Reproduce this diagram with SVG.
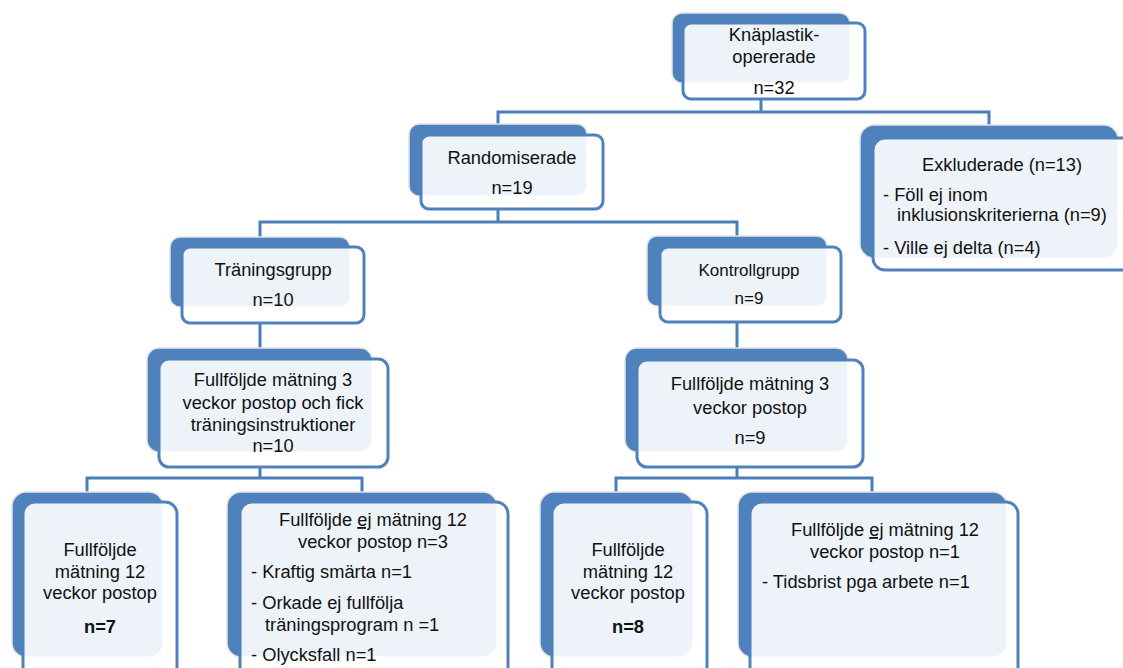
<svg xmlns="http://www.w3.org/2000/svg" width="1123" height="668" viewBox="0 0 1123 668">
<style>
.back{fill:#4F81BD;stroke:#E4E4E4;stroke-width:1.5}
.front{fill:#FFFFFF;fill-opacity:0.9;stroke:#4F81BD;stroke-width:3}
.c{fill:none;stroke:#4A7EBB;stroke-width:3}
text{font-family:"Liberation Sans",Arial,sans-serif;font-size:18.3px;fill:#111}
.m{text-anchor:middle}
.s{font-size:17px}
.b{font-weight:bold}
</style>
<rect width="1123" height="668" fill="#fff"/>
<g id="connectors">
<path class="c" d="M761 99V112M498 124V112H989V125"/>
<path class="c" d="M498 209V222M260 237V222H737V236"/>
<path class="c" d="M260 323V348M737 322V348"/>
<path class="c" d="M260 467V478M87 492V478H362V492"/>
<path class="c" d="M737 467V478M616 492V478H872V492"/>
</g>
<g id="n1">
<rect class="back" x="672" y="13" width="178" height="70" rx="10"/>
<rect class="front" x="683" y="23" width="182" height="76" rx="8"/>
<text class="m" x="774" y="41">Knäplastik-</text>
<text class="m" x="774" y="63">opererade</text>
<text class="m" x="774" y="94">n=32</text>
</g>
<g id="n2">
<rect class="back" x="409" y="124" width="178" height="72" rx="10"/>
<rect class="front" x="421" y="135" width="182" height="74" rx="8"/>
<text class="m" x="512" y="164">Randomiserade</text>
<text class="m" x="512" y="194">n=19</text>
</g>
<g id="n3">
<rect class="back" x="860" y="125" width="258" height="133" rx="14"/>
<rect class="front" x="873" y="138" width="262" height="132" rx="12"/>
<text class="m" x="1002" y="171">Exkluderade (n=13)</text>
<text x="883" y="201">- Föll ej inom</text>
<text x="897" y="221">inklusionskriterierna (n=9)</text>
<text x="883" y="254">- Ville ej delta (n=4)</text>
</g>
<g id="n4">
<rect class="back" x="170" y="237" width="180" height="70" rx="10"/>
<rect class="front" x="182" y="247" width="182" height="76" rx="8"/>
<text class="m" x="273" y="276">Träningsgrupp</text>
<text class="m" x="273" y="306">n=10</text>
</g>
<g id="n5">
<rect class="back" x="647" y="236" width="180" height="70" rx="10"/>
<rect class="front" x="660" y="247" width="181" height="75" rx="8"/>
<text class="m s" x="749" y="276">Kontrollgrupp</text>
<text class="m s" x="749" y="304">n=9</text>
</g>
<g id="n6">
<rect class="back" x="147" y="348" width="225" height="104" rx="12"/>
<rect class="front" x="159" y="359" width="229" height="108" rx="10"/>
<text class="m" x="273" y="386">Fullföljde mätning 3</text>
<text class="m" x="273" y="409">veckor postop och fick</text>
<text class="m" x="273" y="431">träningsinstruktioner</text>
<text class="m" x="273" y="452">n=10</text>
</g>
<g id="n7">
<rect class="back" x="625" y="348" width="223" height="104" rx="12"/>
<rect class="front" x="637" y="360" width="226" height="107" rx="10"/>
<text class="m" x="750" y="390">Fullföljde mätning 3</text>
<text class="m" x="750" y="414">veckor postop</text>
<text class="m" x="750" y="444">n=9</text>
</g>
<g id="n8">
<rect class="back" x="12" y="492" width="151" height="165" rx="14"/>
<rect class="front" x="23" y="502" width="154" height="178" rx="12"/>
<text class="m" x="100" y="556">Fullföljde</text>
<text class="m" x="100" y="578">mätning 12</text>
<text class="m" x="100" y="599">veckor postop</text>
<text class="m b" x="100" y="633">n=7</text>
</g>
<g id="n9">
<rect class="back" x="227" y="492" width="270" height="165" rx="14"/>
<rect class="front" x="240" y="502" width="268" height="178" rx="12"/>
<text class="m" x="373" y="526">Fullföljde <tspan text-decoration="underline">ej</tspan> mätning 12</text>
<text class="m" x="373" y="548">veckor postop n=3</text>
<text x="251" y="578">- Kraftig smärta n=1</text>
<text x="251" y="609">- Orkade ej fullfölja</text>
<text x="265" y="631">träningsprogram n =1</text>
<text x="251" y="661">- Olycksfall n=1</text>
</g>
<g id="n10">
<rect class="back" x="540" y="492" width="153" height="165" rx="14"/>
<rect class="front" x="552" y="502" width="155" height="178" rx="12"/>
<text class="m" x="628" y="556">Fullföljde</text>
<text class="m" x="628" y="578">mätning 12</text>
<text class="m" x="628" y="599">veckor postop</text>
<text class="m b" x="628" y="633">n=8</text>
</g>
<g id="n11">
<rect class="back" x="738" y="492" width="269" height="165" rx="14"/>
<rect class="front" x="750" y="502" width="268" height="178" rx="12"/>
<text class="m" x="885" y="536">Fullföljde <tspan text-decoration="underline">ej</tspan> mätning 12</text>
<text class="m" x="885" y="558">veckor postop n=1</text>
<text x="762" y="588">- Tidsbrist pga arbete n=1</text>
</g>
</svg>
